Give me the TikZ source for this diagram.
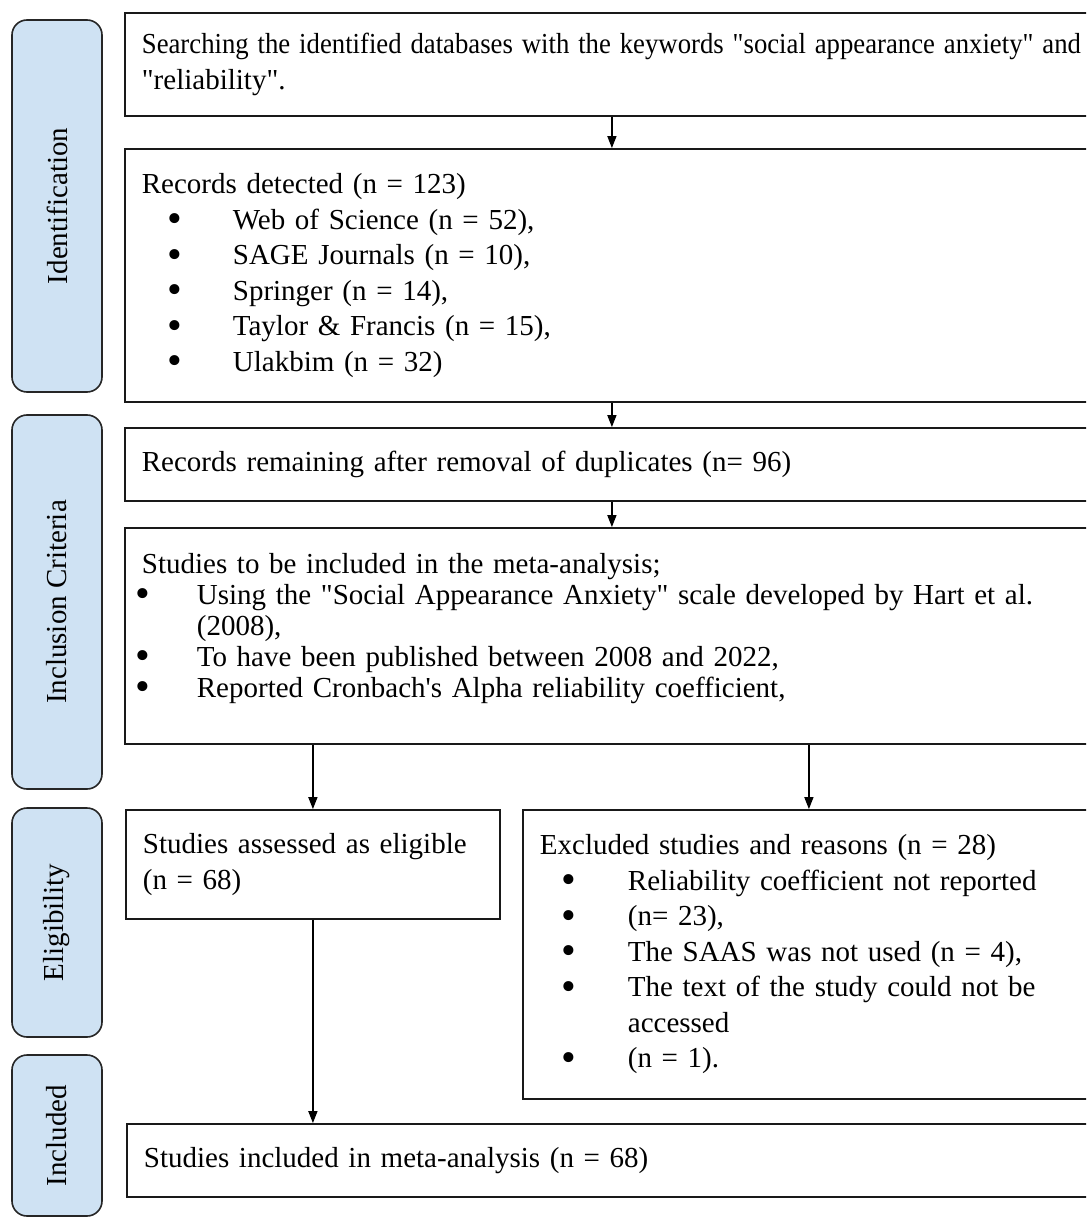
\documentclass[tikz,border=0pt]{standalone}
\usepackage{fontspec}
\setmainfont{Liberation Serif}[Ligatures=TeXOff]
\usepackage{tikz}
\usetikzlibrary{arrows.meta}

\definecolor{phaseblue}{RGB}{207,226,243}
\newlength{\pxu}
\setlength{\pxu}{0.5pt}
\setlength{\parindent}{0pt}
\newcommand{\blt}{\smash{\raisebox{-0.12em}{\scalebox{1.45}{\textbullet}}}}
\newcommand{\itm}[3]{\makebox[0pt][l]{\hspace*{#1}\blt}\hspace*{#2}#3}

\begin{document}
\begin{tikzpicture}[x=0.5pt, y=-0.5pt,
    >={Triangle[length=6pt,width=4.5pt]},
    every node/.style={font=\fontsize{14.5pt}{17.75pt}\selectfont},
    phase/.style={rectangle,
                  draw=black!85,
                  line width=0.8pt,
                  fill=phaseblue,
                  rounded corners=7.5pt,
                  rotate=90,
                  minimum height=90\pxu,
                  inner sep=0pt},
    stagebox/.style={rectangle,
                     draw=black!90,
                     line width=0.9pt,
                     fill=white,
                     anchor=west,
                     align=left,
                     inner xsep=17\pxu,
                     inner ysep=0pt},
    link/.style={->, line width=0.75pt}]

  \useasboundingbox (0,0) rectangle (1086,1218);
  \clip (0,0) rectangle (1086,1218);
  \fill[white] (0,0) rectangle (1086,1218);

  % Phase labels on the left
  \node[phase, minimum width=372\pxu] (ident) at (57,206) {Identification};
  \node[phase, minimum width=374\pxu] (inclcrit) at (57,602) {Inclusion Criteria};
  \node[phase, minimum width=229\pxu] (eligphase) at (57,922.5) {Eligibility};
  \node[phase, minimum width=161\pxu] (inclphase) at (57,1135.5) {Included};

  % Main stack of boxes
  \node[stagebox, text width=940\pxu, minimum height=103\pxu] (search) at (124,64.5)
        {\resizebox{939\pxu}{\height}{Searching the identified databases with the keywords "social appearance anxiety" and}\\
         "reliability".};
  \node[stagebox, text width=940\pxu, minimum height=253\pxu] (records) at (124,275.5)
        {Records detected (n = 123)\\
         \itm{26\pxu}{91\pxu}{Web of Science (n = 52),}\\
         \itm{26\pxu}{91\pxu}{SAGE Journals (n = 10),}\\
         \itm{26\pxu}{91\pxu}{Springer (n = 14),}\\
         \itm{26\pxu}{91\pxu}{Taylor \& Francis (n = 15),}\\
         \itm{26\pxu}{91\pxu}{Ulakbim (n = 32)}};
  \node[stagebox, text width=940\pxu, minimum height=73\pxu] (dedup) at (124,464.5)
        {Records remaining after removal of duplicates (n= 96)};
  \node[stagebox, text width=940\pxu, minimum height=216\pxu,
        font=\fontsize{14.5pt}{15.5pt}\selectfont] (criteria) at (124,636)
        {Studies to be included in the meta-analysis;\\
         \itm{-6\pxu}{55\pxu}{Using the "Social Appearance Anxiety" scale developed by Hart et al.}\\
         \hspace*{55\pxu}(2008),\\
         \itm{-6\pxu}{55\pxu}{To have been published between 2008 and 2022,}\\
         \itm{-6\pxu}{55\pxu}{Reported Cronbach's Alpha reliability coefficient,}\rule[-22\pxu]{0pt}{22\pxu}};

  % Split into eligible and excluded
  \node[stagebox, text width=340\pxu, minimum height=109\pxu] (eligible) at (125,864.5)
        {Studies assessed as eligible\\(n = 68)};
  \node[stagebox, text width=538\pxu, minimum height=289\pxu] (excluded) at (522,954.5)
        {Excluded studies and reasons (n = 28)\\
         \itm{22\pxu}{88\pxu}{Reliability coefficient not reported}\\
         \itm{22\pxu}{88\pxu}{(n= 23),}\\
         \itm{22\pxu}{88\pxu}{The SAAS was not used (n = 4),}\\
         \itm{22\pxu}{88\pxu}{The text of the study could not be}\\
         \hspace*{88\pxu}accessed\\
         \itm{22\pxu}{88\pxu}{(n = 1).}};
  \node[stagebox, text width=938\pxu, minimum height=73\pxu] (included) at (126,1160.5)
        {Studies included in meta-analysis (n = 68)};

  % Arrows
  \draw[link] (search) -- (records);
  \draw[link] (records) -- (dedup);
  \draw[link] (dedup) -- (criteria);
  \draw[link] (criteria.south -| eligible.north) -- (eligible.north);
  \draw[link] (criteria.south -| excluded.north) -- (excluded.north);
  \draw[link] (eligible.south) -- (eligible.south |- included.north);

\end{tikzpicture}
\end{document}
